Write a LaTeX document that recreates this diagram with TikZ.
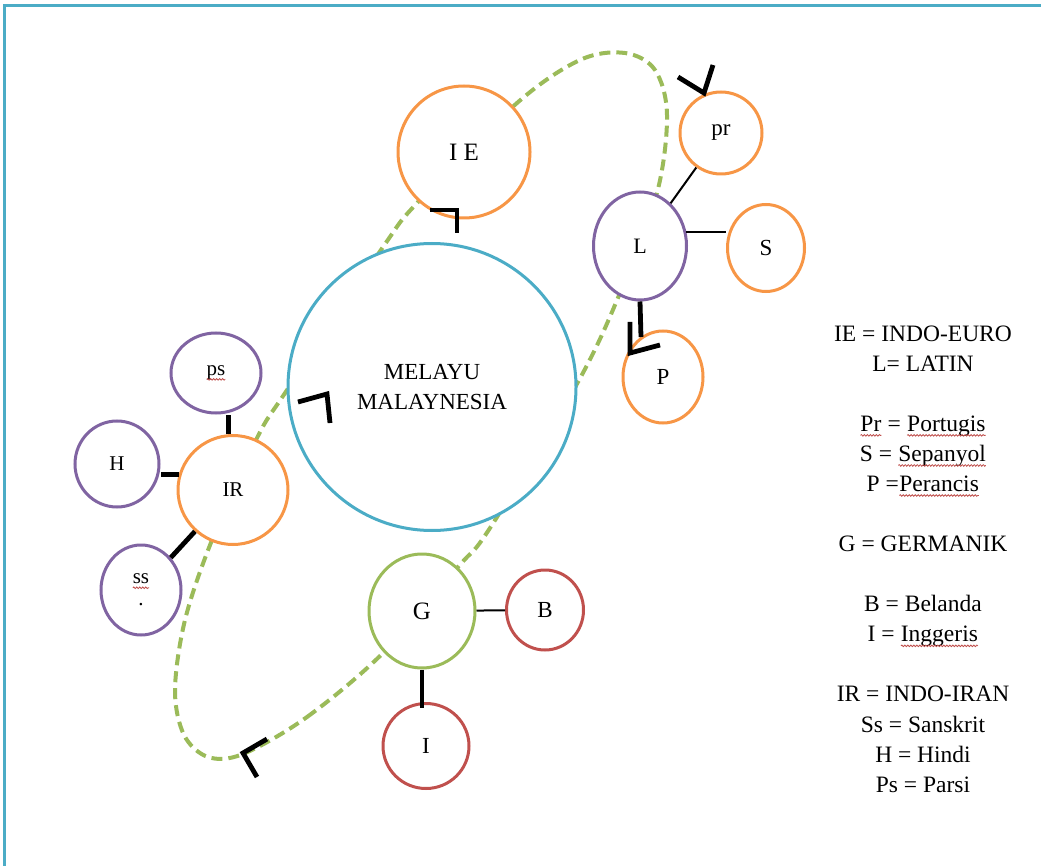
\documentclass[tikz,border=0pt]{standalone}
\usepackage{fontspec}
\setmainfont{Liberation Serif}
\usetikzlibrary{shapes.geometric,decorations.pathmorphing}
\definecolor{cblue}{HTML}{4BACC6}
\definecolor{corange}{HTML}{F79646}
\definecolor{cpurple}{HTML}{8064A2}
\definecolor{cgreen}{HTML}{9BBB59}
\definecolor{cred}{HTML}{C0504D}
\newcommand\sqig[1]{\tikz[baseline=(w.base)]{\node[shape=rectangle,inner sep=0pt,outer sep=0pt,minimum width=0pt,minimum height=0pt,draw=none,fill=none](w){#1};\draw[cred,line width=0.8pt,dash pattern=on 1pt off 0pt,decorate,decoration={snake,amplitude=0.8pt,segment length=3pt}]([yshift=-4pt]w.base west)--([yshift=-4pt]w.base east);}}
\tikzset{
  bub/.style={ellipse, draw, line width=3pt, fill=white, inner sep=0pt, text=black},
  thinline/.style={line width=2pt, black},
  thickline/.style={line width=4.8pt, black},
  chev/.style={line width=4.8pt, black, line join=miter, line cap=butt},
  loop/.style={cgreen, line width=4pt, dash pattern=on 11pt off 6pt},
  legend/.style={align=center, font=\fontsize{23.5}{30.07}\selectfont, inner sep=0pt}
}
\begin{document}
\begin{tikzpicture}[x=1pt,y=-1pt]
\useasboundingbox (0,0) rectangle (1041,866);
% frame
\draw[cblue, line width=3pt] (4.5,866) -- (4.5,6) -- (1041,6);
% dashed loop
\draw[loop] plot[smooth cycle, tension=0.55] coordinates {
 (243,754) (307,717) (383,653) (458,567) (490,528) (578,382) (620,293)
 (657,193) (667,115) (655,70) (625,53) (580,60) (517,103) (418,202)
 (383,247) (287,390) (257,438) (212,540) (185,620) (175,690) (184,735) (208,757)};
% nodes
\node[bub, draw=cblue, minimum width=288pt, minimum height=287pt, align=center, font=\fontsize{23}{30}\selectfont] (mel) at (432,387) {MELAYU\\MALAYNESIA};
\node[bub, draw=corange, minimum width=132pt, minimum height=132pt, font=\fontsize{25}{28}\selectfont] (ie) at (464,152) {I E};
\node[bub, draw=corange, minimum width=82pt, minimum height=82pt, font=\fontsize{23}{26}\selectfont] (pr) at (721,133) {pr};
\node[bub, draw=cpurple, minimum width=93pt, minimum height=108pt, font=\fontsize{22}{26}\selectfont] (L) at (640,246) {L};
\node[bub, draw=corange, minimum width=77pt, minimum height=87pt, font=\fontsize{23}{26}\selectfont] (S) at (766,248) {S};
\node[bub, draw=corange, minimum width=80pt, minimum height=92pt, font=\fontsize{23}{26}\selectfont] (P) at (663,377) {P};
\node[bub, draw=cpurple, minimum width=90pt, minimum height=80pt, font=\fontsize{21}{24}\selectfont] (ps) at (216,373) {\sqig{ps}};
\node[bub, draw=cpurple, minimum width=84pt, minimum height=86pt, font=\fontsize{21}{24}\selectfont] (H) at (117,464) {H};
\node[bub, draw=corange, minimum width=110pt, minimum height=109pt, font=\fontsize{21}{24}\selectfont] (IR) at (233,490) {IR};
\node[bub, draw=cpurple, minimum width=80pt, minimum height=90pt, align=center, font=\fontsize{21}{21}\selectfont] (ss) at (141,590) {\sqig{ss}\\[1pt].};
\node[bub, draw=cgreen, minimum width=106pt, minimum height=114pt, font=\fontsize{25}{28}\selectfont] (G) at (422,611) {G};
\node[bub, draw=cred, minimum width=86pt, minimum height=85pt, font=\fontsize{23}{26}\selectfont] (I) at (426,746) {I};
\node[bub, draw=cred, minimum width=77pt, minimum height=80pt, font=\fontsize{23}{26}\selectfont] (B) at (545,610) {B};
% connectors
\draw[thinline] (pr) -- (L);
\draw[thinline] (L.17) -- (L.17 -| S.west);
\draw[thinline] (G) -- (B);
\coordinate (ptip) at (641,337);
\draw[thickline] (L.south) -- (ptip);
\draw[thickline] (G.south) -- ([yshift=-6pt]G.south |- I.north);
\draw[thickline] (IR.95) -- (IR.95 |- ps.south);
\draw[thickline] (IR.164) -- (IR.164 -| H.east);
\draw[thickline] (IR) -- (ss);
% chevrons
\draw[chev] (430,210) -- (457,210) -- (457,233);
\draw[chev] (678,77) -- (704,93) -- (713,65);
\draw[chev] (630,322) -- (630,353) -- (660,345);
\draw[chev] (298,402) -- (327,394) -- (330,423);
\draw[chev] (267,739) -- (243,753) -- (257,777);
% legend
\node[legend] (leg) at (923,559) {IE = INDO-EURO\\L= LATIN\\[30.07pt]
\sqig{Pr} = \sqig{Portugis}\\S = \sqig{Sepanyol}\\P =\sqig{Perancis}\\[30.07pt]
G = GERMANIK\\[30.07pt]
B = Belanda\\I = \sqig{Inggeris}\\[30.07pt]
IR = INDO-IRAN\\Ss = Sanskrit\\H = Hindi\\Ps = Parsi};
\end{tikzpicture}
\end{document}
